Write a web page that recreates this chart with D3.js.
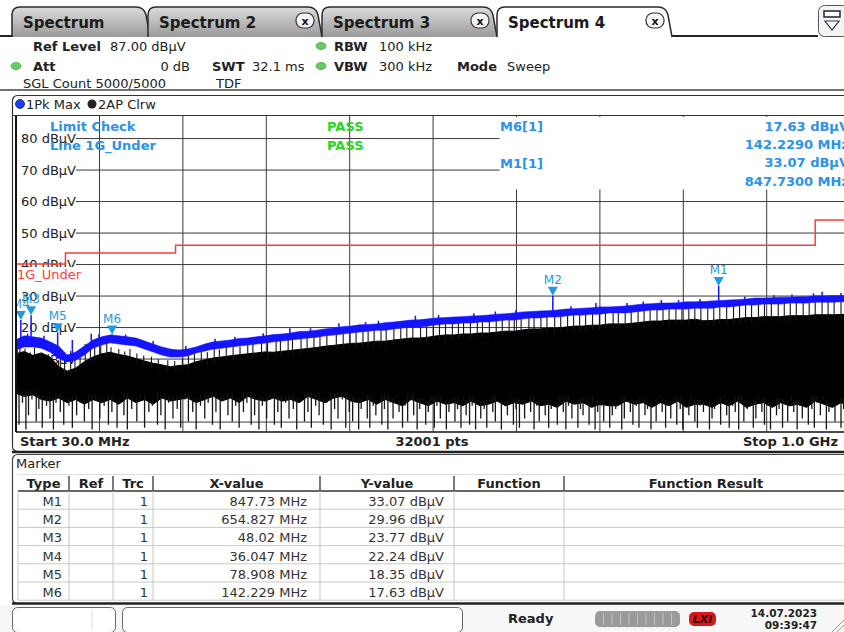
<!DOCTYPE html>
<html>
<head>
<meta charset="utf-8">
<script src="https://cdn.jsdelivr.net/npm/d3@7"></script>
<style>
  body { margin: 0; background: #fff; }
  svg { display: block; font-family: "DejaVu Sans", sans-serif; }
</style>
</head>
<body>
<div id="chart"></div>
<script>
// ---- data ----
// trace sample grid, MHz (30 .. 1000, every 10 MHz)
var sweepFreq = d3.range(30, 1001, 10);

// 1Pk Max trace (blue), upper and lower edge of the band, dBuV
var pkHi = [15.9,17.2,16.9,16.5,15.3,14.0,11.1,12.1,14.0,15.9,
  16.9,17.5,17.2,16.9,16.5,15.6,14.6,13.7,13.0,12.7,
  13.0,13.7,14.6,15.3,15.6,15.9,16.4,16.5,16.9,17.2,
  17.6,17.8,18.1,18.6,18.7,19.0,19.4,19.7,20.1,20.3,
  20.7,20.8,21.0,21.4,21.6,21.9,22.2,22.3,22.6,22.9,
  23.0,23.2,23.3,23.5,23.6,23.8,24.1,24.2,24.5,24.8,
  24.9,25.1,25.2,25.4,25.7,25.8,26.0,26.1,26.4,26.4,
  26.5,26.7,27.0,27.3,27.4,27.6,27.6,27.7,28.0,28.0,
  28.1,28.3,28.4,28.6,28.7,28.9,29.2,29.2,29.3,29.5,
  29.5,29.6,29.6,29.9,29.9,30.0,30.0,30.1];
var pkLo = [12.7,13.7,13.7,13.3,12.1,10.0,8.9,9.5,11.1,13.3,
  14.3,15.0,14.6,14.3,14.0,13.0,12.1,11.1,10.5,10.5,
  10.8,11.8,12.4,13.0,13.3,13.7,14.0,14.3,14.6,14.9,
  15.3,15.6,15.9,16.2,16.5,16.8,17.2,17.5,17.8,18.1,
  18.4,18.7,19.0,19.0,19.4,19.7,20.0,20.0,20.3,20.7,
  21.0,21.0,21.3,21.3,21.6,21.6,21.9,22.2,22.2,22.6,
  22.9,22.9,23.2,23.2,23.5,23.8,23.8,24.1,24.1,24.5,
  24.5,24.5,24.8,25.1,25.4,25.4,25.7,25.7,25.7,26.0,
  26.0,26.0,26.4,26.4,26.7,27.0,27.0,27.3,27.3,27.3,
  27.6,27.6,27.6,27.9,27.9,27.9,28.0,28.0];
// narrow peaks on the blue trace [MHz, dBuV]
var pkSpikes = [[36.047,22.24],[48.02,23.77],[78.908,18.35],[142.229,17.63],
  [44,17.9],[63,17.2],[96,15.9],[118,17.9],[127,17.8],[158,17.6],[190,15.6],[228,14.0],
  [262,16.3],[285,16.9],[318,18.0],[349,19.6],[373,19.6],[406,21.2],[437,21.6],[452,22.0],
  [495,23.6],[522,23.8],[563,24.4],[588,24.9],[612,25.4],[654.827,29.96],[676,26.6],
  [705,27.6],[741,27.6],[760,28.1],[781,28.6],[801,28.6],[826,28.9],[847.73,33.07],
  [878,29.7],[912,30.1],[933,30.3],[958,30.7],[968,31.2],[990,30.8]];

// 2AP Clrw trace (black): top edge and bottom of the solid mass, dBuV
var apTop = [11.5,12.2,11.0,11.8,10.5,7.5,6.0,7.0,9.0,10.5,
  11.5,12.0,11.3,10.8,10.0,9.2,8.5,8.0,7.4,7.8,
  8.0,9.0,9.6,10.2,10.5,10.9,11.2,11.5,11.8,12.1,
  12.0,12.3,12.6,12.9,13.2,13.5,13.9,14.2,14.5,14.8,
  14.9,15.2,15.5,15.5,15.9,16.2,16.5,16.5,16.8,17.2,
  17.5,17.5,17.8,17.8,18.1,18.1,18.4,18.7,18.7,19.1,
  19.4,19.4,19.7,19.7,20.0,20.3,20.3,20.6,20.6,21.0,
  21.0,21.0,21.3,21.6,21.9,21.9,22.2,22.2,22.2,22.5,
  22.0,22.1,22.4,22.4,22.7,23.0,23.0,23.3,23.3,23.3,
  23.6,23.6,23.6,23.9,23.9,23.9,24.0,24.0];
var apFloor = [-1,-2,-1.5,-3,-3.5,-2.5,-4,-3,-4.5,-3,
  -4,-3,-4.5,-2.5,-4,-3,-4.5,-2.5,-3.5,-3,
  -2.5,-4,-3,-2,-3.5,-2.5,-4,-2,-3,-3.5,
  -2.5,-3.5,-3,-4,-2,-3,-4,-2.5,-2,-3.5,
  -4,-3,-4.5,-3,-4,-5,-3,-4,-5,-3.5,
  -4.5,-4,-5,-3.5,-5,-4.5,-3.5,-5,-4,-4.5,
  -3.5,-5,-4.5,-5.5,-3.5,-4.5,-4,-5.5,-4.5,-5,
  -5,-3.5,-4.5,-4,-5.5,-4,-5,-3.5,-5.5,-4.5,
  -4.5,-5.5,-4,-5,-3.5,-5.5,-4.5,-4,-5.5,-4,
  -5,-4.5,-5.5,-3.5,-4.5,-5.5,-4,-5];
// upward black spikes [MHz, dBuV]
var apPeaks = [[32,12.8],[35,14.0],[41,13.2],[47,12.0],[52,13.4],[58,11.5],[66,9.0],[71,10.2],
  [80,9.5],[87,10.0],[94,12.4],[99,11.5],[105,13.0],[111,14.6],[117,13.8],[122,15.0],
  [129,14.2],[136,14.9],[141,13.6],[150,13.0],[157,12.2],[163,13.0],[171,11.6],[179,11.0],
  [188,10.6],[196,9.8],[207,9.5],[215,9.2],[224,10.0],[231,10.8],[238,11.6],[246,12.3],
  [253,12.0],[261,13.2],[267,12.9],[275,13.6],[283,14.0],[291,13.8],[300,14.6],[306,15.0],
  [316,15.2],[323,15.8],[333,16.0],[338,15.6],[347,16.7],[352,16.3],[362,17.0],[369,17.6],
  [377,17.2],[384,18.0],[392,18.4],[403,18.2],[411,18.9],[419,19.3],[426,18.8],[434,19.4],
  [440,19.0],[447,19.9],[455,19.6],[461,20.3],[470,20.0],[478,20.7],[485,20.4],[492,21.2],
  [501,20.8],[508,21.6],[516,21.1],[523,21.9],[530,22.1],[538,21.6],[545,22.4],[551,22.0],
  [559,22.8],[567,22.5],[573,23.0],[581,22.7],[589,23.4],[596,23.1],[604,23.8],[610,23.3],
  [618,24.1],[627,23.7],[633,24.4],[641,24.0],[648,24.7],[657,24.3],[664,25.1],[672,24.6],
  [679,25.3],[686,24.9],[693,25.6],[701,25.2],[709,25.8],[716,25.4],[725,26.1],[731,25.7],
  [739,26.3],[746,26.0],[754,26.6],[761,26.2],[768,26.9],[776,26.5],[783,27.1],[790,26.7],
  [798,27.2],[805,26.9],[813,27.5],[820,27.1],[827,27.7],[835,27.2],[842,27.9],[849,27.5],
  [857,28.0],[865,27.6],[872,28.3],[879,27.9],[886,28.5],[894,28.1],[901,28.7],[909,28.3],
  [917,28.9],[924,28.5],[931,29.1],[938,28.7],[946,29.2],[953,28.8],[960,29.4],[968,29.0],
  [975,29.5],[982,29.1],[990,29.6],[997,29.2]];
// downward black spikes [MHz, dBuV]
var apDips = [[31,-6],[34,-11],[38,-4],[42,-12.5],[45,-8],[49,-3],[54,-10],[57,-6],[61,-12],
  [66,-5],[70,-9],[74,-12.5],[77,-4],[82,-7],[86,-11],[92,-5],[96,-12],[101,-8],[105,-4],
  [110,-10],[115,-6],[119,-12.5],[123,-3],[128,-9],[133,-5],[138,-11],[142,-7],[148,-12],
  [151,-4],[156,-8],[160,-12.5],[165,-6],[171,-10],[175,-3],[180,-12],[185,-7],[189,-5],
  [195,-11],[199,-8],[204,-12.5],[208,-4],[213,-9],[218,-6],[222,-12],[227,-3],[231,-10],
  [236,-7],[240,-12.5],[245,-5],[250,-9],[254,-4],[259,-11],[263,-7],[268,-12.5],[272,-3],
  [277,-8],[282,-10],[286,-5],[290,-12],[295,-7],[299,-4],[304,-11],[308,-8],[313,-12.5],
  [317,-5],[322,-9],[326,-3],[331,-11],[335,-7],[339,-12],[344,-4],[348,-9],[353,-6],
  [357,-12.5],[361,-3],[366,-10],[370,-7],[374,-12],[379,-5],[383,-8],[388,-11],[392,-4],
  [397,-12.5],[401,-6],[405,-9],[410,-3],[414,-12],[418,-7],
  [422,-10],[425,-4],[429,-12.5],[432,-6],[435,-2],[439,-9],[442,-12],[446,-5],[449,-8],
  [452,-3],[456,-11],[459,-6],[463,-12.5],[466,-4],[469,-9],[473,-2],[476,-7],[480,-12],
  [483,-5],[486,-10],[490,-3],[493,-8],[497,-12.5],[500,-6],[503,-4],[507,-11],[510,-7],
  [514,-2],[517,-12],[520,-5],[524,-9],[527,-3],[531,-12.5],[534,-7],[537,-4],[541,-10],
  [544,-6],[548,-12],[551,-2],[554,-8],[558,-11],[561,-5],[565,-12.5],[568,-3],[571,-9],
  [575,-6],[578,-12],[582,-4],[585,-7],[588,-10],[592,-2],[595,-12.5],[599,-5],[602,-8],
  [605,-3],[609,-11],[612,-6],[616,-12],[619,-4],[622,-9],[626,-2],[629,-7],[633,-12.5],
  [636,-5],[639,-10],[643,-3],[646,-8],[650,-12],[653,-6],[656,-4],[660,-11],[663,-2],
  [667,-7],[670,-12.5],[673,-5],[677,-9],[680,-3],[684,-12],[687,-6],[690,-8],[694,-4],
  [697,-11],[701,-2],[704,-12.5],[707,-7],[711,-5],[714,-10],[718,-3],[721,-12],[724,-8],
  [728,-6],[731,-4],[735,-12.5],[738,-9],[741,-2],[745,-7],[748,-11],[752,-5],[755,-12],
  [758,-3],[762,-8],[765,-6],[769,-12.5],[772,-4],[775,-10],[779,-2],[782,-7],[786,-12],
  [789,-5],[792,-9],[796,-3],[799,-11],[803,-6],[806,-12.5],[809,-4],[813,-8],[816,-2],
  [820,-10],[823,-12],[826,-5],[830,-7],[833,-3],[837,-12.5],[840,-9],[843,-6],[847,-4],
  [850,-11],[854,-2],[857,-8],[860,-12],[864,-5],[867,-7],[871,-12.5],[874,-3],[877,-10],
  [881,-6],[884,-4],[888,-12],[891,-9],[894,-2],[898,-7],[901,-11],[905,-5],[908,-12.5],
  [911,-3],[915,-8],[918,-6],[922,-12],[925,-4],[928,-10],[932,-2],[935,-7],[939,-12.5],
  [942,-5],[945,-9],[949,-3],[952,-11],[956,-6],[959,-12],[962,-4],[966,-8],[969,-2],
  [973,-12.5],[976,-7],[979,-5],[983,-10],[986,-3],[990,-12],[993,-6],[996,-9],[999,-4]];

// limit line 1G_Under
var limitFreq = [30, 88, 88, 216, 216, 960, 960, 1000];
var limitLevel = [40, 40, 43.5, 43.5, 46, 46, 54, 54];

// markers
var markerNames = ["M1", "M2", "M3", "M4", "M5", "M6"];
var markerFreq = [847.73, 654.827, 48.02, 36.047, 78.908, 142.229];
var markerLevel = [33.07, 29.96, 23.77, 22.24, 18.35, 17.63];

// axis ticks
var levelTicks = [80, 70, 60, 50, 40, 30, 20, 10, 0, -10];
var levelLabels = [80, 70, 60, 50, 40, 30, 20, 10];
var freqDivs = d3.range(30, 1001, 97);

// ---- drawing ----
var W = 844, H = 632;
var svg = d3.select("#chart").append("svg").attr("width", W).attr("height", H);
var defs = svg.append("defs");

var tabGrad = defs.append("linearGradient").attr("id", "tabGrad")
  .attr("x1", 0).attr("y1", 0).attr("x2", 0).attr("y2", 1);
tabGrad.append("stop").attr("offset", "0%").attr("stop-color", "#dcdcdc");
tabGrad.append("stop").attr("offset", "100%").attr("stop-color", "#9a9a9a");

var x = d3.scaleLinear().domain([30, 1000]).range([15.6, 849.6]);
var y = d3.scaleLinear().domain([-13, 87]).range([431, 116]);

// tabs
var tabs = [
  {name: "Spectrum", x0: 12, x1: 150, close: false, active: false},
  {name: "Spectrum 2", x0: 148, x1: 322, close: true, active: false},
  {name: "Spectrum 3", x0: 322, x1: 497, close: true, active: false},
  {name: "Spectrum 4", x0: 497, x1: 672, close: true, active: true}
];
svg.append("line").attr("x1", 0).attr("x2", 818).attr("y1", 36).attr("y2", 36)
  .attr("stroke", "#222").attr("stroke-width", 2);
tabs.forEach(function (t) {
  var p = "M" + t.x0 + ",37 L" + t.x0 + ",15 Q" + t.x0 + ",7 " + (t.x0 + 8) + ",7 L" +
    (t.x1 - 14) + ",7 Q" + (t.x1 - 6) + ",7 " + (t.x1 - 4) + ",15 L" + t.x1 + ",37";
  svg.append("path").attr("d", p)
    .attr("fill", t.active ? "#fff" : "url(#tabGrad)")
    .attr("stroke", "#2a2a2a").attr("stroke-width", 1.5);
  svg.append("text").attr("x", t.x0 + 11).attr("y", 28)
    .attr("font-size", 15).attr("font-weight", "bold").attr("fill", "#1a1a1a")
    .text(t.name);
  if (t.close) {
    var cx = t.x1 - 17;
    svg.append("rect").attr("x", cx - 9).attr("y", 13).attr("width", 18).attr("height", 15)
      .attr("rx", 7).attr("fill", "#f6f6f6").attr("stroke", "#333").attr("stroke-width", 1.2);
    svg.append("text").attr("x", cx).attr("y", 24.5).attr("text-anchor", "middle")
      .attr("font-size", 11).attr("font-weight", "bold").attr("fill", "#111").text("x");
  }
});
svg.append("line").attr("x1", 498).attr("x2", 671).attr("y1", 36).attr("y2", 36)
  .attr("stroke", "#fff").attr("stroke-width", 2.2);
svg.append("line").attr("x1", 672).attr("x2", 818).attr("y1", 36).attr("y2", 36)
  .attr("stroke", "#222").attr("stroke-width", 2);
// right side menu button
svg.append("rect").attr("x", 818.5).attr("y", 5.5).attr("width", 30).attr("height", 31)
  .attr("rx", 6).attr("fill", "#f4f4f4").attr("stroke", "#555");
svg.append("rect").attr("x", 824).attr("y", 11).attr("width", 16).attr("height", 6)
  .attr("fill", "#fff").attr("stroke", "#223").attr("stroke-width", 1.5);
svg.append("path").attr("d", "M825,21 L839,21 L832,30 Z").attr("fill", "none")
  .attr("stroke", "#335").attr("stroke-width", 1.2);

// header settings
function hText(tx, ty, s, bold, anchor) {
  svg.append("text").attr("x", tx).attr("y", ty).attr("font-size", 13)
    .attr("font-weight", bold ? "bold" : "normal")
    .attr("text-anchor", anchor || "start").attr("fill", "#222").text(s);
}
function greenDot(cx, cy) {
  svg.append("ellipse").attr("cx", cx).attr("cy", cy).attr("rx", 5).attr("ry", 3.5)
    .attr("fill", "#6c6").attr("stroke", "#4a4").attr("stroke-width", 0.8);
}
hText(33, 51, "Ref Level", true);
hText(110, 51, "87.00 dBµV", false);
greenDot(16, 66);
hText(33, 71, "Att", true);
hText(190, 71, "0 dB", false, "end");
hText(212, 71, "SWT", true);
hText(252, 71, "32.1 ms", false);
greenDot(321, 46);
hText(334, 51, "RBW", true);
hText(379, 51, "100 kHz", false);
greenDot(321, 66);
hText(334, 71, "VBW", true);
hText(379, 71, "300 kHz", false);
hText(457, 71, "Mode", true);
hText(507, 71, "Sweep", false);
hText(23, 88, "SGL Count 5000/5000", false);
hText(216, 88, "TDF", false);
svg.append("line").attr("x1", 0).attr("x2", W).attr("y1", 90).attr("y2", 90)
  .attr("stroke", "#444").attr("stroke-width", 1.5);

// diagram frame + trace labels
svg.append("rect").attr("x", 12.5).attr("y", 95.5).attr("width", 900).attr("height", 356)
  .attr("rx", 5).attr("fill", "#fff").attr("stroke", "#333").attr("stroke-width", 1.2);
svg.append("circle").attr("cx", 20).attr("cy", 104).attr("r", 4.5)
  .attr("fill", "#1a3cff").attr("stroke", "#223").attr("stroke-width", 0.8);
hText(26, 109, "1Pk Max", false);
svg.append("circle").attr("cx", 92).attr("cy", 104).attr("r", 4.5).attr("fill", "#222");
hText(98, 109, "2AP Clrw", false);

// plot area
defs.append("clipPath").attr("id", "plotClip").append("rect")
  .attr("x", 16).attr("y", 116).attr("width", 840).attr("height", 315.5);
var plot = svg.append("g").attr("clip-path", "url(#plotClip)");

// grid via axes
plot.append("g").attr("transform", "translate(15.6,0)")
  .call(d3.axisRight(y).tickValues(levelTicks).tickSize(834).tickFormat(""))
  .call(function (g) { g.select(".domain").remove(); })
  .selectAll("line").attr("stroke", "#3a3a3a").attr("stroke-width", 1);
plot.append("g").attr("transform", "translate(0,116)")
  .call(d3.axisBottom(x).tickValues(freqDivs).tickSize(316).tickFormat(""))
  .call(function (g) { g.select(".domain").remove(); })
  .selectAll("line").attr("stroke", "#3a3a3a").attr("stroke-width", 1);
// marker info area covers the upper right grid
plot.append("rect").attr("x", 499.5).attr("y", 117).attr("width", 360).attr("height", 72.5)
  .attr("fill", "#fff");

// level labels
levelLabels.forEach(function (v) {
  plot.append("rect").attr("x", 17).attr("y", y(v) - 7).attr("width", 59).attr("height", 14)
    .attr("fill", "#fff");
  plot.append("text").attr("x", 21).attr("y", y(v) + 5).attr("font-size", 13)
    .attr("fill", "#222").text(v + " dBµV");
});

// 2AP Clrw trace
var idx = function (f) { return Math.max(0, Math.min(sweepFreq.length - 1, Math.round((f - 30) / 10))); };
plot.append("path")
  .datum(sweepFreq)
  .attr("d", d3.area()
    .x(function (d) { return x(d); })
    .y0(function (d, i) { return y(apFloor[i]); })
    .y1(function (d, i) { return y(apTop[i]); }))
  .attr("fill", "#000").attr("stroke", "#000").attr("stroke-width", 1);
plot.selectAll("line.apDip").data(apDips).enter().append("line")
  .attr("class", "apDip")
  .attr("x1", function (d) { return x(d[0]); }).attr("x2", function (d) { return x(d[0]); })
  .attr("y1", function (d) { return y(apFloor[idx(d[0])] + 1.5); })
  .attr("y2", function (d) { return y(d[1]); })
  .attr("stroke", "#151515").attr("stroke-width", 1.3);
plot.selectAll("line.apPeak").data(apPeaks).enter().append("line")
  .attr("class", "apPeak")
  .attr("x1", function (d) { return x(d[0]); }).attr("x2", function (d) { return x(d[0]); })
  .attr("y1", function (d) { return y(apTop[idx(d[0])] - 1.5); })
  .attr("y2", function (d) { return y(d[1]); })
  .attr("stroke", "#151515").attr("stroke-width", 1.1);

// 1Pk Max trace
plot.append("path")
  .datum(sweepFreq)
  .attr("d", d3.area()
    .x(function (d) { return x(d); })
    .y0(function (d, i) { return y(pkLo[i]); })
    .y1(function (d, i) { return y(pkHi[i]); }))
  .attr("fill", "#1414ff").attr("stroke", "#1414ff").attr("stroke-width", 0.6);
plot.selectAll("line.pkSpike").data(pkSpikes).enter().append("line")
  .attr("class", "pkSpike")
  .attr("x1", function (d) { return x(d[0]); }).attr("x2", function (d) { return x(d[0]); })
  .attr("y1", function (d) { return y(pkLo[idx(d[0])]); })
  .attr("y2", function (d) { return y(d[1]); })
  .attr("stroke", "#1414ff").attr("stroke-width", 1.5);

// limit line
var limitPts = limitFreq.map(function (f, i) { return [f, limitLevel[i]]; });
plot.append("path").datum(limitPts)
  .attr("d", d3.line().x(function (d) { return x(d[0]); }).y(function (d) { return y(d[1]); }))
  .attr("fill", "none").attr("stroke", "#ff3b3b").attr("stroke-width", 1.5);
plot.append("rect").attr("x", 16).attr("y", 267).attr("width", 67).attr("height", 15)
  .attr("fill", "#fff");
plot.append("text").attr("x", 17).attr("y", 279).attr("font-size", 13)
  .attr("fill", "#ff3b3b").text("1G_Under");

// markers
var mColor = "#1e9be6";
markerNames.forEach(function (m, i) {
  var mx = x(markerFreq[i]), my = y(markerLevel[i]);
  plot.append("path")
    .attr("d", "M" + (mx - 5) + "," + (my - 9) + " L" + (mx + 5) + "," + (my - 9) + " L" + mx + "," + my + " Z")
    .attr("fill", mColor);
  plot.append("text").attr("x", mx).attr("y", my - 12).attr("text-anchor", "middle")
    .attr("font-size", 12).attr("fill", mColor).text(m);
});

// limit check + marker info
var infoBlue = "#2a93e8";
function info(tx, ty, s, fill, anchor) {
  plot.append("text").attr("x", tx).attr("y", ty).attr("font-size", 13)
    .attr("font-weight", "bold").attr("text-anchor", anchor || "start")
    .attr("fill", fill).text(s);
}
info(50, 131, "Limit Check", infoBlue);
info(50, 150, "Line 1G_Under", infoBlue);
info(327, 131, "PASS", "#22d822");
info(327, 150, "PASS", "#22d822");
var m6 = markerNames.indexOf("M6"), m1 = markerNames.indexOf("M1");
info(500, 131, "M6[1]", infoBlue);
info(849, 131, markerLevel[m6].toFixed(2) + " dBµV", infoBlue, "end");
info(849, 149, markerFreq[m6].toFixed(4) + " MHz", infoBlue, "end");
info(500, 168, "M1[1]", infoBlue);
info(849, 167, markerLevel[m1].toFixed(2) + " dBµV", infoBlue, "end");
info(849, 186, markerFreq[m1].toFixed(4) + " MHz", infoBlue, "end");

// plot borders
svg.append("line").attr("x1", 16).attr("x2", 16).attr("y1", 115).attr("y2", 432)
  .attr("stroke", "#111").attr("stroke-width", 2);
svg.append("line").attr("x1", 12.5).attr("x2", W).attr("y1", 115.5).attr("y2", 115.5)
  .attr("stroke", "#333").attr("stroke-width", 1.2);
svg.append("line").attr("x1", 16).attr("x2", W).attr("y1", 432).attr("y2", 432)
  .attr("stroke", "#111").attr("stroke-width", 1.5);

// sweep info row
hText(20, 446, "Start 30.0 MHz", true);
hText(432, 446, "32001 pts", true, "middle");
hText(838, 446, "Stop 1.0 GHz", true, "end");
svg.append("line").attr("x1", 12).attr("x2", W).attr("y1", 452).attr("y2", 452)
  .attr("stroke", "#222").attr("stroke-width", 2.5);

// marker table
svg.append("rect").attr("x", 12.5).attr("y", 454.5).attr("width", 900).attr("height", 149)
  .attr("rx", 5).attr("fill", "#fff").attr("stroke", "#444").attr("stroke-width", 1.2);
hText(16, 468, "Marker", false);
var cols = [18, 69, 113, 153, 320, 454, 564, 900];
var heads = ["Type", "Ref", "Trc", "X-value", "Y-value", "Function", "Function Result"];
svg.append("line").attr("x1", 18).attr("x2", W).attr("y1", 474.5).attr("y2", 474.5)
  .attr("stroke", "#ddd");
heads.forEach(function (h, i) {
  hText((cols[i] + Math.min(cols[i + 1], 844)) / 2 + (i === 6 ? 2 : 0), 488, h, true, "middle");
  if (i > 0) {
    svg.append("line").attr("x1", cols[i]).attr("x2", cols[i]).attr("y1", 476).attr("y2", 491)
      .attr("stroke", "#333").attr("stroke-width", 1.3);
  }
});
svg.append("line").attr("x1", 18).attr("x2", W).attr("y1", 491).attr("y2", 491)
  .attr("stroke", "#333").attr("stroke-width", 1.5);
var rowH = 18.2;
markerNames.forEach(function (m, i) {
  var by = 506 + i * rowH;
  svg.append("line").attr("x1", 18).attr("x2", W).attr("y1", 491 + (i + 1) * rowH)
    .attr("y2", 491 + (i + 1) * rowH).attr("stroke", "#c8c8c8");
  function cell(tx, s) {
    svg.append("text").attr("x", tx).attr("y", by).attr("font-size", 13)
      .attr("text-anchor", "end").attr("fill", "#333").text(s);
  }
  cell(62, m);
  cell(148, "1");
  cell(307, markerFreq[i] + " MHz");
  cell(444, markerLevel[i].toFixed(2) + " dBµV");
});
[18, 69, 113, 153, 320, 454, 564].forEach(function (cx) {
  svg.append("line").attr("x1", cx).attr("x2", cx).attr("y1", 491).attr("y2", 600)
    .attr("stroke", "#c8c8c8");
});
svg.append("line").attr("x1", 12).attr("x2", W).attr("y1", 603.5).attr("y2", 603.5)
  .attr("stroke", "#222").attr("stroke-width", 2.5);

// status bar
svg.append("rect").attr("x", 0).attr("y", 605).attr("width", W).attr("height", 27).attr("fill", "#f7f7f7");
svg.append("rect").attr("x", 12.5).attr("y", 607.5).attr("width", 103).attr("height", 25)
  .attr("rx", 5).attr("fill", "#fff").attr("stroke", "#666");
svg.append("line").attr("x1", 92).attr("x2", 92).attr("y1", 611).attr("y2", 629).attr("stroke", "#ddd");
svg.append("rect").attr("x", 122.5).attr("y", 607.5).attr("width", 340).attr("height", 25)
  .attr("rx", 5).attr("fill", "#fff").attr("stroke", "#666");
hText(508, 623, "Ready", true);
svg.append("rect").attr("x", 595).attr("y", 611).attr("width", 85).attr("height", 16)
  .attr("rx", 5).attr("fill", "#9a9a9a");
d3.range(1, 10).forEach(function (k) {
  svg.append("line").attr("x1", 595 + k * 8.5).attr("x2", 595 + k * 8.5)
    .attr("y1", 613).attr("y2", 625).attr("stroke", "#c4c4c4").attr("stroke-width", 1);
});
svg.append("rect").attr("x", 689).attr("y", 612).attr("width", 27).attr("height", 14)
  .attr("rx", 5).attr("fill", "#d81818");
svg.append("text").attr("x", 702.5).attr("y", 623).attr("text-anchor", "middle")
  .attr("font-size", 11).attr("font-weight", "bold").attr("font-style", "italic")
  .attr("fill", "#3a0000").text("LXI");
svg.append("text").attr("x", 817).attr("y", 617).attr("text-anchor", "end")
  .attr("font-size", 10.5).attr("font-weight", "bold").attr("fill", "#222").text("14.07.2023");
svg.append("text").attr("x", 817).attr("y", 629).attr("text-anchor", "end")
  .attr("font-size", 10.5).attr("font-weight", "bold").attr("fill", "#222").text("09:39:47");
svg.append("path").attr("d", "M832,632 L844,620 M837,632 L844,625").attr("stroke", "#999");
</script>
</body>
</html>
